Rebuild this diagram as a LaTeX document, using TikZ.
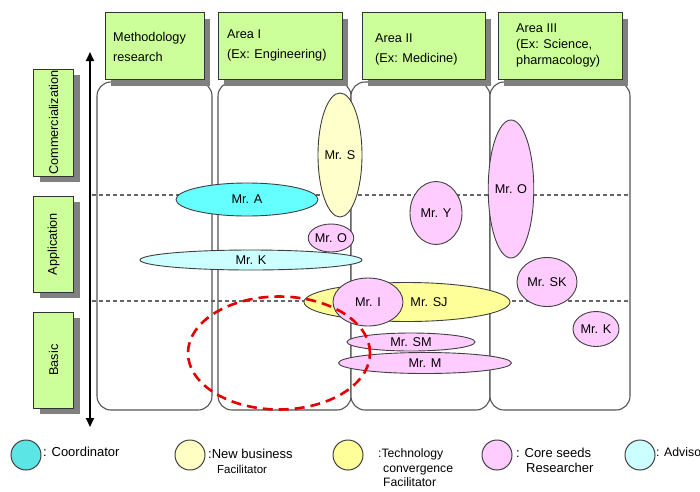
\documentclass[tikz,border=0pt]{standalone}
\usepackage{fontspec}
\setmainfont{Liberation Sans}
\usetikzlibrary{shapes.geometric,shadows,arrows.meta}

\definecolor{boxgreen}{HTML}{CCFF99}
\definecolor{coordcyan}{HTML}{66FFFF}
\definecolor{advcyan}{HTML}{CCFFFF}
\definecolor{nbyellow}{HTML}{FFFFCC}
\definecolor{tcyellow}{HTML}{FFFF99}
\definecolor{seedpink}{HTML}{FFCCFF}
\definecolor{panelline}{HTML}{555555}

\tikzset{
  panel/.style={draw=panelline, line width=1.1pt, rounded corners=14pt, fill=white},
  greenbox/.style={draw=black!80, line width=0.8pt, fill=boxgreen, inner sep=0pt,
    drop shadow={shadow xshift=6pt, shadow yshift=-6pt, fill=black!50, opacity=1}},
  hdrtext/.style={anchor=west, align=left, inner sep=0pt, font=\fontsize{12.7}{20}\selectfont},
  rowtext/.style={rotate=90, inner sep=0pt, font=\fontsize{12.7}{15}\selectfont},
  person/.style={ellipse, draw=black!75, line width=0.9pt, inner sep=0pt,
    font=\fontsize{12.7}{15}\selectfont},
  levelline/.style={draw=black!60, dash pattern=on 4pt off 3pt, line width=1.2pt},
  focus/.style={draw=red!90!black, line width=2.6pt, dash pattern=on 10pt off 6pt},
  legdot/.style={circle, draw=black!75, line width=1pt, minimum size=30pt, inner sep=0pt},
  legtext/.style={anchor=west, align=left, inner sep=0pt, font=\fontsize{13}{15}\selectfont},
}

\begin{document}
\begin{tikzpicture}[x=1pt, y=-1pt]
\useasboundingbox (0,0) rectangle (700,491);

% research area panels
\draw[panel] (97,82) rectangle (212,410);
\draw[panel] (218,82) rectangle (351,410);
\draw[panel] (351,82) rectangle (490,410);
\draw[panel] (490,82) rectangle (630,410);

% column headers
\node[greenbox, minimum width=99pt, minimum height=67pt] (h1) at (154.5,46) {};
\node[greenbox, minimum width=124pt, minimum height=67pt] (h2) at (280,46) {};
\node[greenbox, minimum width=123pt, minimum height=67pt] (h3) at (423.5,46) {};
\node[greenbox, minimum width=124pt, minimum height=67pt] (h4) at (560,46) {};
\node[hdrtext] (t1) at (113,47) {Methodology\\research};
\node[hdrtext] (t2) at (227,45) {Area I\\(Ex: Engineering)};
\node[hdrtext] (t3) at (375,49) {Area II\\(Ex: Medicine)};
\node[hdrtext, font=\fontsize{12.7}{16}\selectfont] (t4) at (516,45) {Area III\\(Ex: Science,\\pharmacology)};

% stage labels
\node[greenbox, minimum width=40pt, minimum height=107pt] (r1) at (53.5,122.5) {};
\node[greenbox, minimum width=40pt, minimum height=96pt] (r2) at (53.5,244) {};
\node[greenbox, minimum width=40pt, minimum height=96pt] (r3) at (53.5,360) {};
\node[rowtext] (rt1) at (r1.center) {Commercialization};
\node[rowtext] (rt2) at (r2.center) {Application};
\node[rowtext] (rt3) at (r3.center) {Basic};

% stage axis
\coordinate (axtop) at (90,52);
\coordinate (axbot) at (90,427);
\draw[line width=1.8pt, {Triangle[length=9pt,width=8pt]}-{Triangle[length=9pt,width=8pt]}] (axbot) -- (axtop);

% stage boundaries
\coordinate (b1l) at (92,195);
\coordinate (b1r) at (630,195);
\coordinate (b2l) at (92,301);
\coordinate (b2r) at (630,301);
\draw[levelline] (b1l) -- (b1r);
\draw[levelline] (b2l) -- (b2r);

% people
\node[person, fill=advcyan, minimum width=222pt, minimum height=20pt] (pk) at (251,260) {Mr. K};
\node[person, fill=coordcyan, minimum width=142pt, minimum height=33pt] (pa) at (247,199.5) {Mr. A};
\node[person, fill=nbyellow, minimum width=44pt, minimum height=124pt] (ps) at (340,155) {Mr. S};
\node[person, fill=seedpink, minimum width=41pt, minimum height=28pt] (po1) at (331,238) {Mr. O};
\node[person, fill=seedpink, minimum width=52pt, minimum height=63pt] (py) at (436,213) {Mr. Y};
\node[person, fill=seedpink, minimum width=44pt, minimum height=138pt] (po2) at (511,189) {Mr. O};
\node[person, fill=seedpink, minimum width=60pt, minimum height=49pt] (psk) at (547,282) {Mr. SK};
\node[person, fill=seedpink, minimum width=46pt, minimum height=35pt] (pk2) at (596,329) {Mr. K};
\node[person, fill=tcyellow, minimum width=206pt, minimum height=39pt] (psj) at (407,302) {\hspace*{44pt}Mr. SJ};
\node[person, fill=seedpink, minimum width=70pt, minimum height=48pt] (pi) at (368,302) {Mr. I};
\node[person, fill=seedpink, minimum width=173pt, minimum height=21pt] (pm) at (425,363) {Mr. M};
\node[person, fill=seedpink, minimum width=128pt, minimum height=18pt] (psm) at (411,342) {Mr. SM};

% focus region
\node[focus, ellipse, minimum width=182pt, minimum height=113pt] (fz) at (279,353) {};

% legend
\node[legdot, fill=coordcyan!90!black] (l1) at (26,455) {};
\node[legtext] (lt1) at (43,452) {: Coordinator};
\node[legdot, fill=nbyellow!85!tcyellow] (l2) at (190,455) {};
\node[legtext] (lt2) at (208,461) {:New business\\\hspace*{9pt}{\fontsize{11.5}{15}\selectfont Facilitator}};
\node[legdot, fill=tcyellow] (l3) at (348,455) {};
\node[legtext, font=\fontsize{12.2}{14.5}\selectfont] (lt3) at (378,468) {:Technology\\\hspace*{5pt}convergence\\\hspace*{5pt}Facilitator};
\node[legdot, fill=seedpink] (l4) at (497,455) {};
\node[legtext] (lt4) at (516,460) {: Core seeds\\\hspace*{10pt}Researcher};
\node[legdot, fill=advcyan] (l5) at (640,455) {};
\node[legtext, font=\fontsize{12.3}{15}\selectfont] (lt5) at (656,452) {: Adviso};
\end{tikzpicture}
\end{document}
